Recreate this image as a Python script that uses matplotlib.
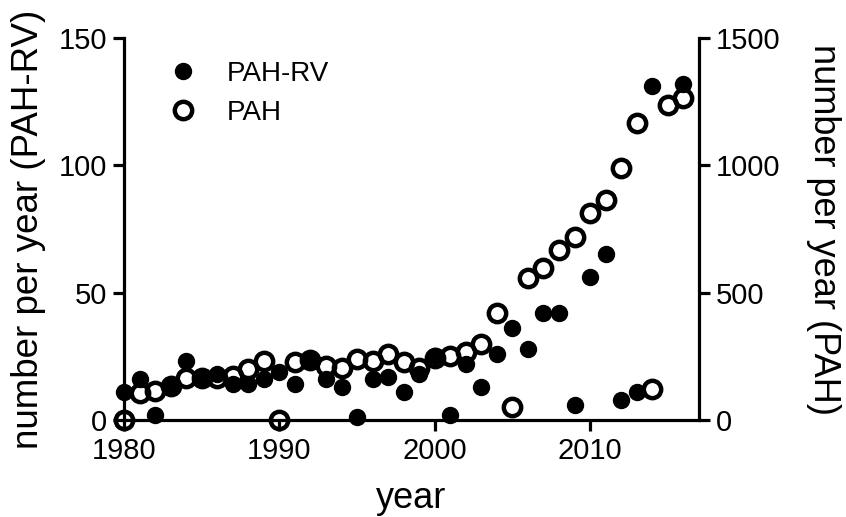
import numpy as np
import matplotlib.pyplot as plt
from matplotlib.lines import Line2D

plt.rcParams['font.family'] = ['Liberation Sans', 'DejaVu Sans']

years = list(range(1980, 2017))
pah_rv = [11, 16, 2, 13, 23, 17, 18, 14, 14, 16, 19, 14, 23.5, 16, 13, 1, 16, 17, 11, 18,
          25, 2, 22, 13, 26, 36, 28, 42, 42, 6, 56, 65, 8, 11, 131, np.nan, 132]
pah = [0, 105, 114, 135, 165, 165, 165, 173, 200, 233, 0, 229, 235, 212, 205, 239, 233, 259, 229, 203,
       245, 251, 268, 298, 419, 52, 556, 596, 667, 720, 811, 864, 988, 1167, 120, 1237, 1263]

fig = plt.figure(figsize=(8.46, 5.17), dpi=100)
ax = fig.add_axes([0.1466, 0.1876, 0.826 - 0.1466, 0.9265 - 0.1876])
ax2 = ax.twinx()

ax.plot(years, pah_rv, 'o', color='black', markersize=11.5, clip_on=False, zorder=3)
ax2.plot(years, pah, 'o', markerfacecolor='none', markeredgecolor='black',
         markeredgewidth=3.2, markersize=12.5, clip_on=False, zorder=3)

ax.set_xlim(1980, 2017)
ax.set_ylim(0, 150)
ax2.set_ylim(0, 1500)
ax.set_xticks([1980, 1990, 2000, 2010])
ax.set_yticks([0, 50, 100, 150])
ax2.set_yticks([0, 500, 1000, 1500])

for a in (ax, ax2):
    a.spines['top'].set_visible(False)
    for s in ('left', 'right', 'bottom'):
        a.spines[s].set_linewidth(2.3)
    a.tick_params(direction='out', length=8, width=2.3, labelsize=21, pad=4)
ax.spines['right'].set_visible(False)
ax2.spines['left'].set_visible(False)
ax2.spines['bottom'].set_visible(False)

ax.set_xlabel('year', fontsize=26, labelpad=12)
ax.set_ylabel('number per year (PAH-RV)', fontsize=26.5, labelpad=9)
ax2.set_ylabel('number per year (PAH)', fontsize=26, rotation=270, labelpad=44)

handles = [Line2D([], [], ls='none', marker='o', color='black', markersize=11.5),
           Line2D([], [], ls='none', marker='o', markerfacecolor='none', markeredgecolor='black',
                  markeredgewidth=3.2, markersize=12.5)]
ax2.legend(handles, ['PAH-RV', 'PAH'], loc='upper left', bbox_to_anchor=(0.01, 1.005),
           frameon=False, fontsize=20, handletextpad=0.6, labelspacing=0.45)

fig.savefig('out.png', dpi=100)
